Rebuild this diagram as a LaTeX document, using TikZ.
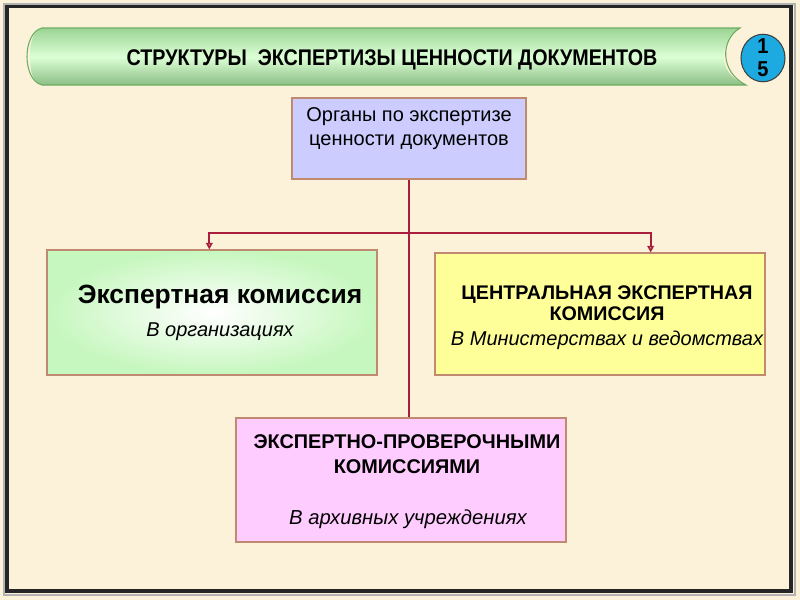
\documentclass[tikz,border=0pt]{standalone}
\usepackage{fontspec}
\setmainfont{Liberation Sans}
\usepackage{tikz}
\usetikzlibrary{positioning,arrows.meta}

\definecolor{paper}{HTML}{FCF1D9}
\definecolor{bannergreen}{HTML}{9CD494}
\definecolor{bannerlight}{HTML}{DCFFD5}
\definecolor{bannerline}{HTML}{6BAE62}
\definecolor{badgeblue}{HTML}{1CAAE0}
\definecolor{linkred}{HTML}{A81E3C}
\definecolor{boxline}{HTML}{C08A70}
\definecolor{lilac}{HTML}{CCCCFF}
\definecolor{mint}{HTML}{C6F7BE}
\definecolor{lemon}{HTML}{FFFF99}
\definecolor{pink}{HTML}{FFCCFF}

\tikzset{
  orgbox/.style={draw=boxline, line width=0.8pt, minimum width=247.5pt, inner sep=0pt},
  boxtext/.style={align=center, inner sep=0pt},
  link/.style={draw=linkred, line width=1.4pt},
  tip/.style={-{Triangle[open, length=5pt, width=5pt]}}
}

\begin{document}
\begin{tikzpicture}[x=0.75pt, y=-0.75pt]

\useasboundingbox (0,0) rectangle (800,600);
\fill[paper] (0,0) rectangle (800,600);

% slide frame
\draw[gray!60, line width=1.2pt] (4,4) rectangle (795,595);
\draw[black!85, line width=2.3pt] (7,6.5) rectangle (791,591);

% title banner
\shade[top color=bannergreen, bottom color=bannerlight]
  (42,28) -- (740,28) .. controls (728,36) and (724,48) .. (723.5,57) -- (30,57)
  .. controls (30,40) and (34,30) .. (42,28) -- cycle;
\shade[top color=bannerlight, bottom color=bannergreen!90!black]
  (30,57) -- (723.5,57) .. controls (724,68) and (730,78) .. (746,85)
  -- (42,85) .. controls (32,82) and (30,70) .. (30,57) -- cycle;
\draw[bannerline, line width=0.8pt]
  (42,28) -- (740,28) .. controls (720,40) and (720,72) .. (746,85)
  -- (42,85) .. controls (22,80) and (22,33) .. (42,28) -- cycle;
\node[font=\fontsize{17}{19}\selectfont\bfseries, inner sep=0pt] (title) at (392,60)
  {\scalebox{0.87}[1]{СТРУКТУРЫ\ \ ЭКСПЕРТИЗЫ ЦЕННОСТИ ДОКУМЕНТОВ}};

% page number
\node[circle, draw=black!75, line width=0.8pt, fill=badgeblue, minimum width=33pt, inner sep=0pt, yscale=1.08,
      align=center, font=\fontsize{15}{16}\selectfont\bfseries] (badge) at (763,58) {1\\5};

% boxes
\node[orgbox, fill=lilac, minimum width=175.5pt, minimum height=60.75pt] (organs) at (409,138.5) {};
\node[boxtext, font=\fontsize{15}{18}\selectfont] (organslabel) at (409,129)
  {Органы по экспертизе\\ценности документов};

\node[orgbox, inner color=white, outer color=mint, minimum height=93.75pt] (commission) at (212,312.5) {};
\node[boxtext, font=\fontsize{19.8}{22}\selectfont\bfseries] (commissionlabel) at (220,297) {Экспертная комиссия};
\node[boxtext, font=\fontsize{15}{17}\selectfont\itshape] (commissionplace) at (220,332) {В организациях};

\node[orgbox, fill=lemon, minimum height=91.5pt] (central) at (600,314) {};
\node[boxtext, font=\fontsize{14.8}{15.5}\selectfont\bfseries] (centrallabel) at (607,303)
  {ЦЕНТРАЛЬНАЯ ЭКСПЕРТНАЯ\\КОМИССИЯ};
\node[boxtext, font=\fontsize{15}{17}\selectfont\itshape] (centralplace) at (607,340) {В Министерствах и ведомствах};

\node[orgbox, fill=pink, minimum height=93pt] (checking) at (401,480) {};
\node[boxtext, font=\fontsize{14.9}{18.75}\selectfont\bfseries] (checkinglabel) at (407,454.5)
  {ЭКСПЕРТНО-ПРОВЕРОЧНЫМИ\\КОМИССИЯМИ};
\node[boxtext, font=\fontsize{15.2}{17}\selectfont\itshape] (checkingplace) at (408,519) {В архивных учреждениях};

% connectors
\coordinate (fork) at (organs.south |- 0,233);
\draw[link] (organs.south) -- (organs.south |- checking.north);
\draw[link, tip] (fork) -| ([xshift=-2pt]commission.north);
\draw[link, tip] (fork) -| ([xshift=38pt]central.north);

\end{tikzpicture}
\end{document}
